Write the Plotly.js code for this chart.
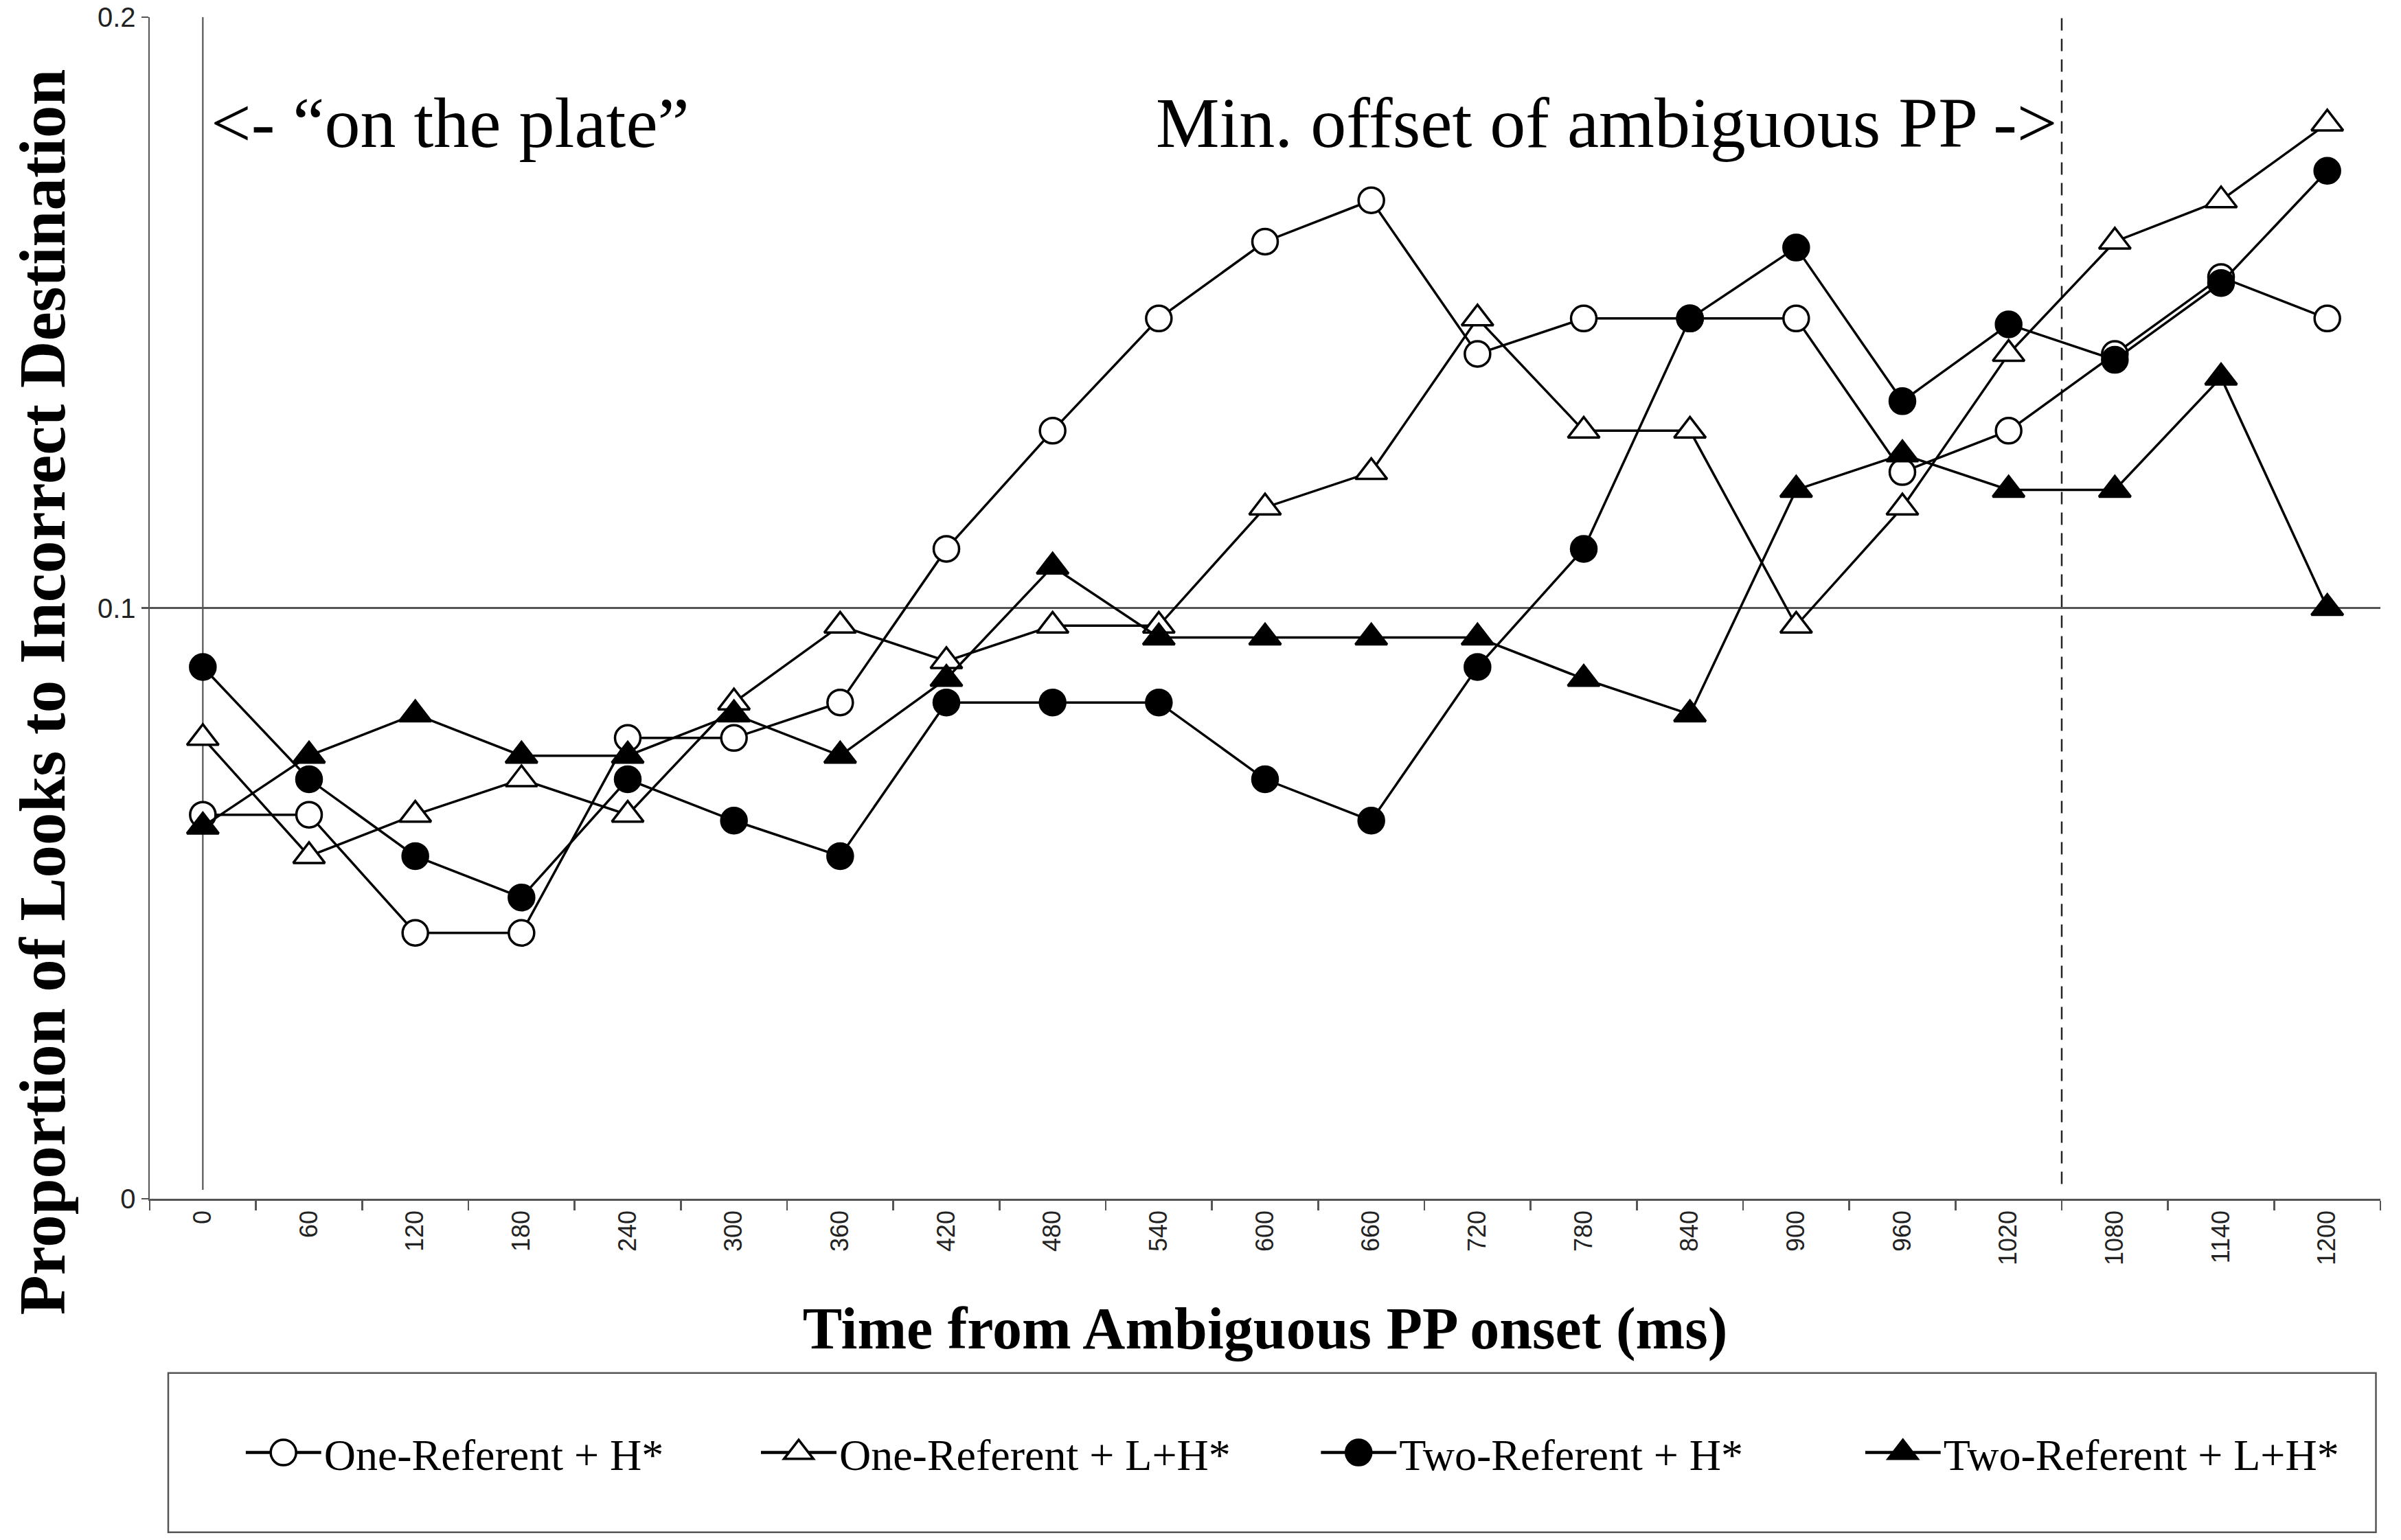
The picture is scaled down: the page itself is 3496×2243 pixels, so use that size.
<!DOCTYPE html>
<html>
<head>
<meta charset="utf-8">
<script src="https://cdn.plot.ly/plotly-3.0.1.min.js"></script>
<style>
  html, body { margin: 0; padding: 0; background: #ffffff; }
  #chart { width: 3496px; height: 2243px; }
</style>
</head>
<body>
<div id="chart"></div>
<script>
// ---- Data ----
const timeLabels = ["0","60","120","180","240","300","360","420","480","540","600",
                    "660","720","780","840","900","960","1020","1080","1140","1200"];

const oneRefH  = [0.065,0.065,0.045,0.045,0.078,0.078,0.084,0.110,0.130,0.149,0.162,
                  0.169,0.143,0.149,0.149,0.149,0.123,0.130,0.143,0.156,0.149];
const oneRefLH = [0.078,0.058,0.065,0.071,0.065,0.084,0.097,0.091,0.097,0.097,0.117,
                  0.123,0.149,0.130,0.130,0.097,0.117,0.143,0.162,0.169,0.182];
const twoRefH  = [0.090,0.071,0.058,0.051,0.071,0.064,0.058,0.084,0.084,0.084,0.071,
                  0.064,0.090,0.110,0.149,0.161,0.135,0.148,0.142,0.155,0.174];
const twoRefLH = [0.063,0.075,0.082,0.075,0.075,0.082,0.075,0.088,0.107,0.095,0.095,
                  0.095,0.095,0.088,0.082,0.120,0.126,0.120,0.120,0.139,0.100];

const seriesNames = ["One-Referent + H*", "One-Referent + L+H*",
                     "Two-Referent + H*", "Two-Referent + L+H*"];

const yTickVals  = [0, 0.1, 0.2];
const yTickText  = ["0", "0.1", "0.2"];

const onsetMs     = 0;     // "on the plate" reference line
const minOffsetMs = 1050;  // min. offset of ambiguous PP (dashed line)
const stepMs      = 60;

const annLeftText  = "<- \u201Con the plate\u201D";
const annRightText = "Min. offset of ambiguous PP ->";

// ---- Styles ----
const SERIF = "Liberation Serif, Times New Roman, serif";
const SANS  = "Liberation Sans, Arial, sans-serif";
const LINE_W = 3.5;

function mk(name, y, symbol, fill, legendId, size) {
  return {
    type: "scatter",
    mode: "lines+markers",
    name: name,
    x: timeLabels,
    y: y,
    legend: legendId,
    line: { color: "#000000", width: LINE_W },
    marker: { symbol: symbol, size: size, color: fill,
              line: { color: "#000000", width: 3.5 } },
    cliponaxis: false,
    hoverinfo: "x+y+name"
  };
}

const traces = [
  mk(seriesNames[0], oneRefH,  "circle",      "#ffffff", "legend",  37),
  mk(seriesNames[1], oneRefLH, "triangle-up", "#ffffff", "legend2", 40),
  mk(seriesNames[2], twoRefH,  "circle",      "#000000", "legend3", 37),
  mk(seriesNames[3], twoRefLH, "triangle-up", "#000000", "legend4", 40)
];

function legendAt(xp) {
  return {
    orientation: "h",
    x: xp, xanchor: "left",
    y: -0.215, yanchor: "middle",
    bgcolor: "rgba(0,0,0,0)",
    borderwidth: 0,
    itemwidth: 104,
    font: { family: SERIF, size: 64, color: "#000000" },
    itemclick: false, itemdoubleclick: false
  };
}

const layout = {
  width: 3496,
  height: 2243,
  paper_bgcolor: "#ffffff",
  plot_bgcolor: "#ffffff",
  margin: { l: 218, r: 30, t: 25, b: 497, pad: 0 },
  showlegend: true,
  legend:  legendAt(0.043),
  legend2: legendAt(0.274),
  legend3: legendAt(0.525),
  legend4: legendAt(0.769),
  xaxis: {
    type: "category",
    categoryorder: "array",
    categoryarray: timeLabels,
    range: [-0.5, timeLabels.length - 0.5],
    tickson: "boundaries",
    ticks: "outside",
    ticklen: 14,
    tickwidth: 2.5,
    tickcolor: "#555555",
    tickangle: -90,
    tickfont: { family: SANS, size: 36, color: "#222222" },
    showline: true,
    linecolor: "#555555",
    linewidth: 2.5,
    showgrid: false,
    zeroline: false,
    automargin: false,
    title: {
      text: "<b>Time from Ambiguous PP onset (ms)</b>",
      font: { family: SERIF, size: 86, color: "#000000" },
      standoff: 62
    }
  },
  yaxis: {
    range: [0, 0.2],
    tickvals: yTickVals,
    ticktext: yTickText,
    ticks: "outside",
    ticklen: 10,
    tickwidth: 2.5,
    tickcolor: "#555555",
    tickfont: { family: SANS, size: 40, color: "#222222" },
    showline: true,
    linecolor: "#555555",
    linewidth: 2.5,
    showgrid: true,
    gridcolor: "#555555",
    gridwidth: 2.2,
    zeroline: false,
    automargin: false
  },
  shapes: [
    { type: "line", xref: "x", yref: "y",
      x0: onsetMs / stepMs, x1: onsetMs / stepMs, y0: 0.0015, y1: 0.2,
      line: { color: "#555555", width: 2.2 }, layer: "below" },
    { type: "line", xref: "x", yref: "y",
      x0: minOffsetMs / stepMs, x1: minOffsetMs / stepMs, y0: 0.0025, y1: 0.2,
      line: { color: "#222222", width: 2.5, dash: "18px,12px" }, layer: "below" },
    { type: "rect", xref: "paper", yref: "paper",
      x0: 0.0083, x1: 0.998, y0: -0.2823, y1: -0.1475,
      line: { color: "#555555", width: 2.5 }, fillcolor: "rgba(0,0,0,0)" }
  ],
  annotations: [
    { text: annLeftText, xref: "paper", yref: "paper",
      x: 0.0268, y: 0.9108, xanchor: "left", yanchor: "middle",
      showarrow: false, font: { family: SERIF, size: 104, color: "#000000" } },
    { text: annRightText, xref: "paper", yref: "paper",
      x: 0.8555, y: 0.9108, xanchor: "right", yanchor: "middle",
      showarrow: false, font: { family: SERIF, size: 104, color: "#000000" } },
    { text: "<b>Proportion of Looks to Incorrect Destination</b>",
      xref: "paper", yref: "paper", x: -0.048, y: 0.4287,
      xanchor: "center", yanchor: "middle", textangle: -90,
      showarrow: false, font: { family: SERIF, size: 95, color: "#000000" } }
  ]
};

function enlargeLegendSymbols() {
  const items = document.querySelectorAll(".infolayer g.traces");
  let scale = null;
  items.forEach(function (tr) {
    const c = tr.querySelector(".legendsymbols path.scatterpts");
    if (c && scale === null) {
      const bb = c.getBBox();
      // first legend item is a circle: bbox width equals its diameter
      if (bb && bb.width > 0) scale = 37 / bb.width;
    }
  });
  if (scale === null) scale = 2.3;
  items.forEach(function (tr) {
    tr.querySelectorAll(".legendlines path").forEach(function (p) {
      p.setAttribute("d", "M0,0h110");
      p.style.strokeWidth = "4.5px";
    });
    tr.querySelectorAll(".legendsymbols path.scatterpts").forEach(function (p) {
      p.setAttribute("transform", "translate(55,0) scale(" + scale.toFixed(3) + ")");
      p.style.vectorEffect = "non-scaling-stroke";
      p.style.strokeWidth = "3.5px";
    });
  });
}

Plotly.newPlot("chart", traces, layout, { displayModeBar: false, staticPlot: true })
  .then(function () { enlargeLegendSymbols(); });
</script>
</body>
</html>
